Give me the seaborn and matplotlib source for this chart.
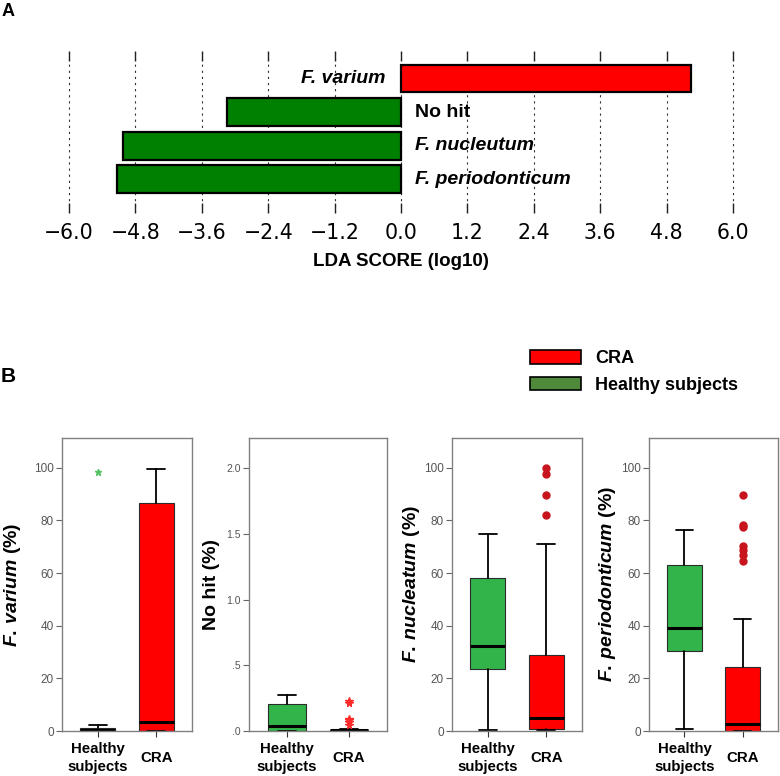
import matplotlib
matplotlib.use("Agg")
import matplotlib.pyplot as plt
import seaborn as sns
import pandas as pd
from matplotlib.patches import Patch

# ---------------- data ----------------
lda_taxa = ["F. varium", "No hit", "F. nucleutum", "F. periodonticum"]
lda_scores = [5.24, -3.15, -5.03, -5.14]
lda_groups = ["CRA", "Healthy subjects", "Healthy subjects", "Healthy subjects"]
lda_ticks = [-6.0, -4.8, -3.6, -2.4, -1.2, 0.0, 1.2, 2.4, 3.6, 4.8, 6.0]

box_groups = ["Healthy\nsubjects", "CRA"]
# five-number summaries: [whisker low, Q1, median, Q3, whisker high]
varium_healthy = [0.0, 0.1, 0.5, 1.1, 2.3]
varium_cra = [0.0, 0.0, 3.4, 86.7, 99.7]
varium_healthy_out = [98.5]
varium_cra_out = []

nohit_healthy = [0.0, 0.0, 0.038, 0.206, 0.275]
nohit_cra = [0.0, 0.0, 0.004, 0.008, 0.015]
nohit_healthy_out = []
nohit_cra_out = [0.225, 0.215, 0.092, 0.080, 0.069, 0.046]

nucleatum_healthy = [0.5, 23.4, 32.1, 58.1, 74.7]
nucleatum_cra = [0.2, 0.9, 5.1, 29.0, 71.2]
nucleatum_healthy_out = []
nucleatum_cra_out = [99.9, 97.6, 89.7, 82.1]

perio_healthy = [0.6, 30.2, 39.1, 63.2, 76.2]
perio_cra = [0.1, 0.1, 2.5, 24.2, 42.5]
perio_healthy_out = []
perio_cra_out = [89.6, 78.2, 77.4, 70.2, 68.7, 67.0, 64.5]

pct_ticks = [0, 20, 40, 60, 80, 100]
pct_ticklabels = ["0", "20", "40", "60", "80", "100"]
nohit_ticks = [0.0, 0.5, 1.0, 1.5, 2.0]
nohit_ticklabels = [".0", ".5", "1.0", "1.5", "2.0"]

# ---------------- style ----------------
sns.set_theme(style="white")
plt.rcParams["font.family"] = ["Liberation Sans", "DejaVu Sans"]
plt.rcParams["text.color"] = "black"
plt.rcParams["axes.labelcolor"] = "black"
plt.rcParams["xtick.color"] = "black"
plt.rcParams["ytick.color"] = "black"
plt.rcParams["mathtext.fontset"] = "custom"
plt.rcParams["mathtext.rm"] = "Liberation Sans:bold"
plt.rcParams["mathtext.bf"] = "Liberation Sans:bold"
plt.rcParams["mathtext.it"] = "Liberation Sans:bold:italic"

RED = "#ff0000"
DKGREEN = "#008000"
BOXGREEN = "#33b44a"
LEGGREEN = "#4e8a3a"

W, H = 780, 776
fig = plt.figure(figsize=(W / 100, H / 100), dpi=100)


def px_axes(left, top, right, bottom):
    return fig.add_axes([left / W, 1 - bottom / H, (right - left) / W, (bottom - top) / H])


# ---------------- panel A ----------------
axA = px_axes(63.5, 51, 738.5, 213)
df = pd.DataFrame({"taxon": lda_taxa, "score": lda_scores, "group": lda_groups})
sns.barplot(data=df, x="score", y="taxon", hue="group", order=lda_taxa,
            palette={"CRA": RED, "Healthy subjects": DKGREEN}, dodge=False,
            saturation=1, width=0.83, edgecolor="black", linewidth=1.6, orient="h",
            legend=False, ax=axA, zorder=3)
axA.set_xlim(-6.1, 6.1)
axA.set_ylim(4.01, -0.82)
for s in axA.spines.values():
    s.set_visible(False)
axA.set_yticks([])
axA.set_ylabel("")
axA.set_xlabel("")
axA.set_xticks(lda_ticks)
axA.set_xticklabels([f"{t:.1f}".replace("-", "\u2212") for t in lda_ticks],
                    fontfamily="DejaVu Sans", fontsize=14.8, color="black")
axA.tick_params(axis="x", which="both", top=True, bottom=True, direction="in",
                length=7, width=1.0, color="#222222", pad=7)
axA.grid(axis="x", linestyle=(0, (2, 3.5)), color="#333333", linewidth=0.8, zorder=0)
axA.set_axisbelow(True)
for i, (name, score) in enumerate(zip(lda_taxa, lda_scores)):
    italic = name.startswith("F.")
    if score > 0:
        axA.annotate(name, xy=(0, i), xytext=(-11, 0), textcoords="offset points",
                     ha="right", va="center", fontsize=14, fontweight="bold",
                     fontstyle="italic" if italic else "normal", color="black")
    else:
        axA.annotate(name, xy=(0, i), xytext=(10, 0), textcoords="offset points",
                     ha="left", va="center", fontsize=14, fontweight="bold",
                     fontstyle="italic" if italic else "normal", color="black")

fig.text(401 / W, 1 - 262 / H, "LDA SCORE (log10)", ha="center", va="center",
         fontsize=13.5, fontweight="bold")
fig.text(2 / W, 1 - 11 / H, "A", ha="left", va="center", fontsize=13, fontweight="bold")

# ---------------- panel B ----------------
fig.text(1 / W, 1 - 376 / H, "B", ha="left", va="center", fontsize=15, fontweight="bold")

handles = [Patch(facecolor=RED, edgecolor="black", linewidth=1.2),
           Patch(facecolor=LEGGREEN, edgecolor="black", linewidth=1.2)]
fig.legend(handles, ["CRA", "Healthy subjects"], loc="center left",
           bbox_to_anchor=(530 / W, 1 - 372 / H), frameon=False,
           handlelength=2.8, handleheight=0.8, labelspacing=0.5,
           handletextpad=0.8, borderpad=0, borderaxespad=0,
           prop={"weight": "bold", "size": 13})

panels = [
    (62, 192, [varium_healthy, varium_cra], [varium_healthy_out, varium_cra_out],
     r"$\mathit{F.\,varium}$ (%)", (0, 111.3), pct_ticks, pct_ticklabels,
     ("*", 5, ["#55c266", RED]), -0.377),
    (249, 387, [nohit_healthy, nohit_cra], [nohit_healthy_out, nohit_cra_out],
     "No hit (%)", (0, 2.23), nohit_ticks, nohit_ticklabels,
     ("*", 5.5, [BOXGREEN, "#ff2a2a"]), -0.275),
    (452, 582, [nucleatum_healthy, nucleatum_cra], [nucleatum_healthy_out, nucleatum_cra_out],
     r"$\mathit{F.\,nucleatum}$ (%)", (0, 111.3), pct_ticks, pct_ticklabels,
     ("o", 5, [BOXGREEN, "#c8141c"]), -0.315),
    (649, 778, [perio_healthy, perio_cra], [perio_healthy_out, perio_cra_out],
     r"$\mathit{F.\,periodonticum}$ (%)", (0, 111.3), pct_ticks, pct_ticklabels,
     ("o", 5, [BOXGREEN, "#c8141c"]), -0.318),
]

for left, right, summaries, outs, ylabel, ylim, yt, ytl, (mk, ms, fcols), lab_x in panels:
    ax = px_axes(left, 438, right, 731)
    stats = [dict(whislo=s[0], q1=s[1], med=s[2], q3=s[3], whishi=s[4], fliers=o)
             for s, o in zip(summaries, outs)]
    art = ax.bxp(stats, positions=[0, 1], widths=0.6, patch_artist=True,
                 capwidths=0.3, showfliers=True,
                 boxprops=dict(edgecolor="#2b2b2b", linewidth=0.8),
                 medianprops=dict(color="black", linewidth=2.2),
                 whiskerprops=dict(color="black", linewidth=1.3),
                 capprops=dict(color="black", linewidth=1.3),
                 flierprops=dict(marker=mk, markersize=ms, linestyle="none"))
    for patch, col in zip(art["boxes"], [BOXGREEN, RED]):
        patch.set_facecolor(col)
    for fl, col in zip(art["fliers"], fcols):
        fl.set_markerfacecolor(col)
        fl.set_markeredgecolor(col)
    ax.set_xlim(-0.61, 1.61)
    ax.set_ylim(*ylim)
    ax.set_yticks(yt)
    ax.set_yticklabels(ytl)
    ax.set_xticks([0, 1])
    ax.set_xticklabels(box_groups, fontsize=10.8, fontweight="bold", va="center",
                       linespacing=1.3, color="black")
    ax.tick_params(axis="y", direction="out", length=4.5, width=0.8, color="#666666",
                   labelsize=8.5 if ylim[1] > 3 else 7.5, labelcolor="#555555", pad=1.5,
                   left=True)
    ax.tick_params(axis="x", direction="out", length=4.5, width=0.8, color="#333333",
                   pad=15, bottom=True)
    for s in ax.spines.values():
        s.set_visible(True)
        s.set_color("#808080")
        s.set_linewidth(1.0)
    ax.set_ylabel(ylabel, fontsize=14, fontweight="bold", va="center", color="black")
    ax.yaxis.set_label_coords(lab_x, 0.5)
    ax.set_xlabel("")

fig.savefig("out.png", dpi=100)
